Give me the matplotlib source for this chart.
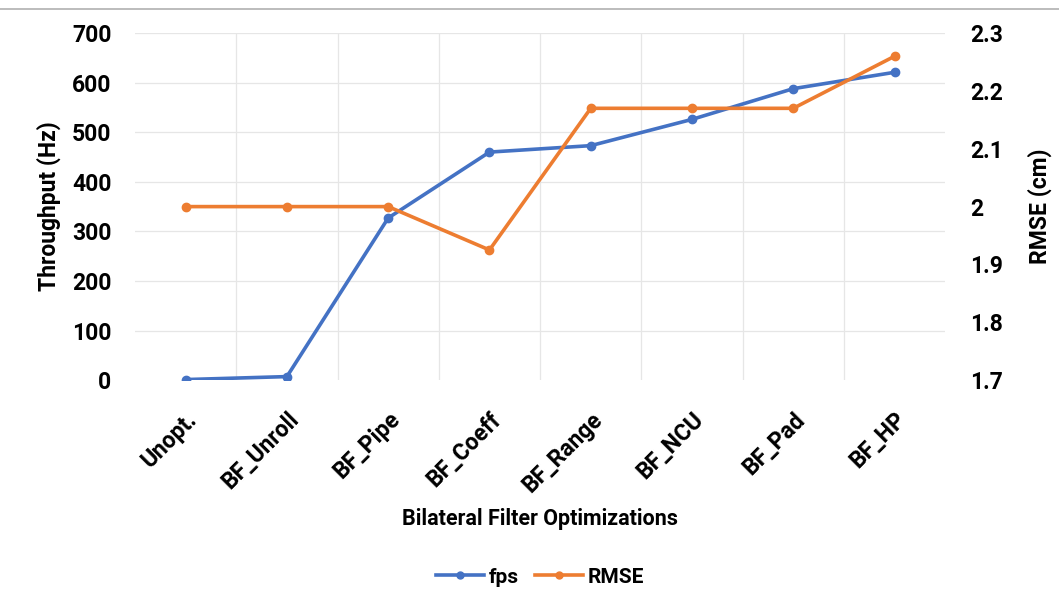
import matplotlib
matplotlib.use("Agg")
import matplotlib.pyplot as plt
from matplotlib.lines import Line2D

plt.rcParams["font.family"] = ["Roboto", "DejaVu Sans"]
plt.rcParams["font.weight"] = "bold"

categories = ["Unopt.", "BF_Unroll", "BF_Pipe", "BF_Coeff",
              "BF_Range", "BF_NCU", "BF_Pad", "BF_HP"]
fps = [1, 7, 327, 460, 473, 526, 588, 621]
rmse = [2.0, 2.0, 2.0, 1.925, 2.17, 2.17, 2.17, 2.26]

blue = "#4472C4"
orange = "#ED7D31"

fig = plt.figure(figsize=(10.59, 5.92), dpi=100)
ax = fig.add_axes([0.1275, 0.358, 0.765, 0.586])
ax2 = ax.twinx()

x = range(len(categories))
ax.plot(x, fps, color=blue, lw=2.6, marker="o", ms=6, label="fps", zorder=3)
ax2.plot(x, rmse, color=orange, lw=2.6, marker="o", ms=6, label="RMSE", zorder=3)

ax.set_xlim(-0.5, len(categories) - 0.5)
ax.set_ylim(0, 700)
ax.set_yticks(range(0, 701, 100))
ax2.set_ylim(1.7, 2.3)
ax2.set_yticks([1.7, 1.8, 1.9, 2.0, 2.1, 2.2, 2.3])
ax2.set_yticklabels(["1.7", "1.8", "1.9", "2", "2.1", "2.2", "2.3"])

# grid at category boundaries and every 100 Hz
for b in [i + 0.5 for i in range(len(categories) - 1)]:
    ax.axvline(b, color="#e6e6e6", lw=0.9, zorder=0)
for yv in range(100, 701, 100):
    ax.axhline(yv, color="#e6e6e6", lw=0.9, zorder=0)

ax.set_xticks(list(x))
ax.set_xticklabels(categories, rotation=45, ha="right", rotation_mode="anchor",
                   fontsize=16.5, fontweight="bold")
for a in (ax, ax2):
    a.tick_params(length=0, labelsize=16.5)
    for s in a.spines.values():
        s.set_visible(False)
ax.tick_params(axis="y", pad=17)
ax.tick_params(axis="x", pad=20)
ax2.tick_params(axis="y", pad=18)

ax.set_ylabel("Throughput (Hz)", fontsize=16.5, fontweight="bold", labelpad=8)
ax2.set_ylabel("RMSE (cm)", fontsize=16.5, fontweight="bold", labelpad=18)
ax.set_xlabel("Bilateral Filter Optimizations", fontsize=15.5, fontweight="bold", labelpad=8)

handles = [Line2D([], [], color=blue, lw=2.6, marker="o", ms=5),
           Line2D([], [], color=orange, lw=2.6, marker="o", ms=5)]
fig.legend(handles, ["fps", "RMSE"], loc="center", bbox_to_anchor=(0.51, 0.025),
           ncol=2, frameon=False, fontsize=15, handlelength=2.3, columnspacing=0.8,
           handletextpad=0.2)

fig.add_artist(Line2D([0, 1], [0.985, 0.985], color="#b0b0b0", lw=1.2))

fig.savefig("out.png", dpi=100)
